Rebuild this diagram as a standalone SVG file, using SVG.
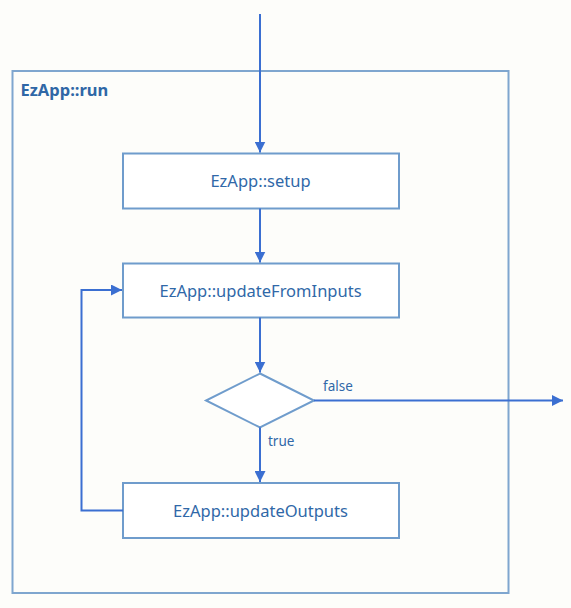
<svg xmlns="http://www.w3.org/2000/svg" width="571" height="608" viewBox="0 0 571 608">
<defs>
<marker id="ah" viewBox="0 0 10 10" refX="10" refY="5" markerWidth="11" markerHeight="11" markerUnits="userSpaceOnUse" orient="auto">
<path d="M0,0 L10,5 L0,10 Z" fill="#3b6fd1"/>
</marker>
<style>
.box{fill:#ffffff;stroke:#6f9ccc;stroke-width:2}
.frame{fill:none;stroke:#7fa6cf;stroke-width:2}
.lbl{font-family:"Noto Sans","Open Sans",sans-serif;font-size:16.5px;fill:#3068a8;text-anchor:middle}
.small{font-family:"Noto Sans","Open Sans",sans-serif;font-size:13.5px;fill:#3068a8}
.title{font-family:"Noto Sans","Open Sans",sans-serif;font-size:16.5px;font-weight:bold;fill:#2f67a6}
.con{fill:none;stroke:#3b6fd1;stroke-width:2}
</style>
</defs>
<rect width="571" height="608" fill="#fdfdfa"/>
<g id="frame">
<rect class="frame" x="12.5" y="71" width="496" height="522"/>
<text class="title" x="20.5" y="96">EzApp::run</text>
</g>
<g id="setup">
<rect class="box" x="123" y="153.5" width="276" height="55"/>
<text class="lbl" x="260.5" y="187">EzApp::setup</text>
</g>
<g id="updateFromInputs">
<rect class="box" x="123" y="263.5" width="276" height="54"/>
<text class="lbl" x="260.5" y="296.5">EzApp::updateFromInputs</text>
</g>
<g id="decision">
<polygon class="box" points="260,373.5 314,400.5 260,427.5 206,400.5"/>
</g>
<g id="updateOutputs">
<rect class="box" x="123" y="483" width="276" height="55"/>
<text class="lbl" x="260.5" y="516.5">EzApp::updateOutputs</text>
</g>
<g id="connectors">
<path class="con" d="M260,14 L260,152.5" marker-end="url(#ah)"/>
<path class="con" d="M260,208.5 L260,262.5" marker-end="url(#ah)"/>
<path class="con" d="M260,317.5 L260,372.5" marker-end="url(#ah)"/>
<path class="con" d="M314,400.5 L563,400.5" marker-end="url(#ah)"/>
<path class="con" d="M260,427.5 L260,482" marker-end="url(#ah)"/>
<path class="con" d="M123,510.5 L81.5,510.5 L81.5,290 L122,290" marker-end="url(#ah)"/>
<text class="small" x="323" y="391">false</text>
<text class="small" x="268" y="445.5">true</text>
</g>
</svg>
